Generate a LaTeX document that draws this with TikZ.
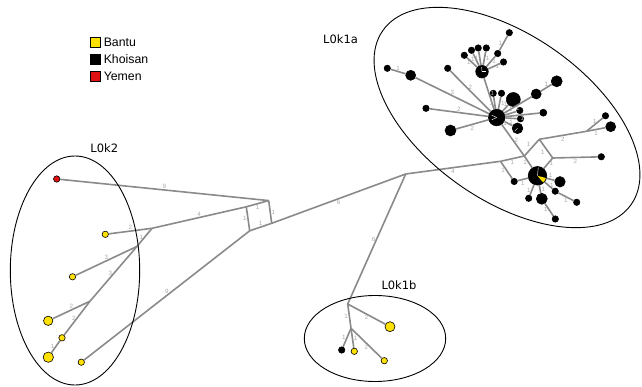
\documentclass[tikz,border=0pt]{standalone}
\usepackage{fontspec}
\setmainfont{Liberation Sans}
\newfontfamily\grpfont{DejaVu Sans}
\usepackage{tikz}
\usetikzlibrary{positioning}
\definecolor{bantu}{HTML}{FFE100}
\definecolor{yemen}{HTML}{DD1111}
\definecolor{edgegray}{HTML}{8A8A8A}
\definecolor{lblgray}{HTML}{A8A8A8}

\begin{document}
\begin{tikzpicture}[x=1pt, y=-1pt,
			edge/.style={draw=edgegray, line width=1.6pt},
			elbl/.style={text=lblgray, font=\fontsize{6.2}{6.2}\selectfont, inner sep=0.7pt, above},
			hap/.style={circle, draw=black, line width=0.6pt, inner sep=0pt, minimum size=#1pt},
			kh/.style={hap=#1, fill=black}, kh/.default=6.4,
			bt/.style={hap=#1, fill=bantu}, bt/.default=6.4,
			ye/.style={hap=#1, fill=yemen}, ye/.default=6.4,
			group/.style={draw=black, line width=0.9pt},
			grplbl/.style={font=\grpfont\fontsize{11.5}{13}\selectfont, inner sep=0pt},
			legbox/.style={draw=black, line width=0.6pt, minimum size=10.5pt, inner sep=0pt},
			legtxt/.style={font=\fontsize{12.3}{14}\selectfont, inner sep=0pt},
			pie/.style={draw=white, line width=0.4pt}]
			
			\useasboundingbox (0,0) rectangle (642,387);
			
			% legend
			\node[legbox, fill=bantu] (keyB) at (95.5,42.5) {};
			\node[legbox, fill=black, below=5.8pt of keyB] (keyK) {};
			\node[legbox, fill=yemen, below=5.8pt of keyK] (keyY) {};
			\node[legtxt, right=2.5pt of keyB] (keyBt) {Bantu};
			\node[legtxt, right=2.5pt of keyK] (keyKt) {Khoisan};
			\node[legtxt, right=2.5pt of keyY] (keyYt) {Yemen};
			
			% L0k2
			\node[ye] (r1) at (56.7,179) {};
			\node[bt] (y1) at (105.3,234.3) {};
			\node[bt] (y2) at (72.5,276.8) {};
			\node[bt=9.4] (y3) at (48.2,320.8) {};
			\node[bt] (y4) at (62,337.8) {};
			\node[bt=10.4] (y5) at (48.3,357.2) {};
			\node[bt] (y6) at (81.3,362.2) {};
			\coordinate (k1) at (246.3,206.8);
			\coordinate (k2) at (268.7,200.6);
			\coordinate (k3) at (271.7,223.3);
			\coordinate (k4) at (249.7,230.8);
			\coordinate (b1) at (152,228.3);
			\coordinate (b2) at (137,246.4);
			\coordinate (b3) at (90,301.2);
			
			\draw[edge] (k1) -- node[elbl, below] {1} (k2);
			\draw[edge] (k2) -- node[elbl, right] {1} (k3);
			\draw[edge] (k3) -- node[elbl] {1} (k4);
			\draw[edge] (k4) -- node[elbl, left] {1} (k1);
			\draw[edge] (k2) -- node[elbl] {9} (r1);
			\draw[edge] (k1) -- node[elbl] {4} (b1);
			\draw[edge] (b1) -- node[elbl] {2} (y1);
			\draw[edge] (b1) -- node[elbl, left] {1} (b2);
			\draw[edge] (b2) -- node[elbl] {3} (y2);
			\draw[edge] (b2) -- node[elbl, left] {3} (b3);
			\draw[edge] (b3) -- node[elbl] {2} (y3);
			\draw[edge] (b3) -- node[elbl, left] {2} (y4);
			\draw[edge] (y4) -- node[elbl, left] {1} (y5);
			\draw[edge] (k4) -- node[elbl] {9} (y6);
			
			% L0k1b
			\coordinate (J1) at (405.7,174);
			\coordinate (J2) at (347.7,304);
			\coordinate (J3) at (351,328.3);
			\node[bt=10] (yb1) at (390,326.7) {};
			\node[kh] (kb1) at (341.7,350) {};
			\node[bt] (yb2) at (354.3,351.3) {};
			\node[bt] (yb3) at (384.3,360.7) {};
			
			\draw[edge] (k3) -- node[elbl, below] {6} (J1);
			\draw[edge] (J1) -- node[elbl, left] {6} (J2);
			\draw[edge] (J2) -- node[elbl, below] {2} (yb1);
			\draw[edge] (J2) -- node[elbl, left] {1} (J3);
			\draw[edge] (J3) -- node[elbl, left] {1} (kb1);
			\draw[edge] (J3) -- node[elbl, right] {1} (yb2);
			\draw[edge] (J3) -- node[elbl, below] {2} (yb3);
			
			% L0k1a
			\coordinate (P) at (500.5,161.3);
			\coordinate (Q) at (524.3,156);
			\coordinate (R) at (539.3,139.3);
			\coordinate (S) at (552.7,158);
			\coordinate (T) at (586.5,131.3);
			\node[kh=18.6] (hubC) at (537.5,175.8) {};
			\node[kh] (n14) at (514.2,181.5) {};
			\node[kh] (n15) at (605.5,115.8) {};
			\node[kh=10] (n16) at (610.7,126.7) {};
			\node[kh] (n17) at (601.3,156.8) {};
			\node[kh=10.5] (n18) at (560,181.8) {};
			\node[kh] (n19) at (555.2,191.2) {};
			\node[kh] (n20) at (576.7,202.3) {};
			\node[kh=11] (n21) at (541.8,198.8) {};
			\node[kh] (n22) at (555.3,219) {};
			\node[kh] (n23) at (528.7,198.3) {};
			
			\node[kh=16.6] (hubB) at (496.7,117.5) {};
			\node[kh] (c0) at (387.3,68.3) {};
			\node[kh] (c1) at (447.7,68.3) {};
			\node[kh=10] (c2) at (410.7,75.3) {};
			\node[kh] (c3) at (426,108.3) {};
			\node[kh=11] (c4) at (450.5,130.5) {};
			\node[kh] (c5) at (493.2,93.3) {};
			\node[kh] (c6) at (501.5,93.3) {};
			\node[kh=14] (c7) at (513.3,99.5) {};
			\node[kh=10] (c8) at (536.2,94) {};
			\node[kh=11] (c9) at (556.7,81.3) {};
			\node[kh] (c10) at (519.8,110.5) {};
			\node[kh=7] (c11) at (543.3,112.7) {};
			\node[kh] (c12) at (520.5,118.8) {};
			\node[kh=10.7] (c13) at (517.5,128.3) {};
			
			\node[kh=12.6] (hubA) at (482,71.7) {};
			\node[kh] (a1) at (464.3,55.3) {};
			\node[kh] (a2) at (471.5,50.3) {};
			\node[kh] (a3) at (478.2,48) {};
			\node[kh] (a4) at (486.3,48) {};
			\node[kh] (a5) at (497.7,53.5) {};
			\node[kh] (a6) at (503.5,62) {};
			\node[kh] (a7) at (509.3,32.7) {};
			
			\draw[edge] (J1) -- node[elbl, below] {4} (P);
			\draw[edge] (P) -- node[elbl, below] {1} (Q);
			\draw[edge] (P) -- node[elbl, left] {1} (n14);
			\draw[edge] (n14) -- node[elbl, below] {1} (hubC);
			\draw[edge] (Q) -- node[elbl, above left] {1} (R);
			\draw[edge] (R) -- node[elbl, below left] {1} (S);
			\draw[edge] (Q) -- node[elbl, left] {1} (hubC);
			\draw[edge] (S) -- node[elbl, right] {1} (hubC);
			\draw[edge] (R) -- node[elbl, below] {2} (T);
			\draw[edge] (T) -- node[elbl] {1} (n15);
			\draw[edge] (T) -- node[elbl, below] {1} (n16);
			\draw[edge] (S) -- node[elbl, below] {2} (n17);
			\draw[edge] (hubC) -- node[elbl] {1} (n18);
			\draw[edge] (hubC) -- node[elbl, right] {1} (n19);
			\draw[edge] (n19) -- node[elbl, below] {1} (n20);
			\draw[edge] (hubC) -- node[elbl, right] {1} (n21);
			\draw[edge] (n21) -- node[elbl, left] {1} (n22);
			\draw[edge] (hubC) -- node[elbl, left] {1} (n23);
			
			\draw[edge] (Q) -- node[elbl, right] {2} (hubB);
			\draw[edge] (hubA) -- node[elbl, right] {1} (hubB);
			\draw[edge] (hubB) -- node[elbl] {2} (c1);
			\draw[edge] (hubB) -- node[elbl] {3} (c2);
			\draw[edge] (c2) -- node[elbl] {1} (c0);
			\draw[edge] (hubB) -- node[elbl] {2} (c3);
			\draw[edge] (hubB) -- node[elbl, below] {2} (c4);
			\draw[edge] (hubB) -- node[elbl, left] {1} (c5);
			\draw[edge] (hubB) -- node[elbl, right] {1} (c6);
			\draw[edge] (hubB) -- node[elbl] {1} (c7);
			\draw[edge] (hubB) -- node[elbl, below] {1} (c8);
			\draw[edge] (c8) -- node[elbl] {1} (c9);
			\draw[edge] (hubB) -- node[elbl] {1} (c10);
			\draw[edge] (hubB) -- node[elbl, below] {1} (c11);
			\draw[edge] (hubB) -- node[elbl, below] {1} (c12);
			\draw[edge] (hubB) -- node[elbl, left] {1} (c13);
			
			\draw[edge] (hubA) -- node[elbl, left] {1} (a1);
			\draw[edge] (hubA) -- node[elbl, left] {1} (a2);
			\draw[edge] (hubA) -- node[elbl, left] {1} (a3);
			\draw[edge] (hubA) -- node[elbl, right] {1} (a4);
			\draw[edge] (hubA) -- node[elbl, right] {1} (a5);
			\draw[edge] (hubA) -- node[elbl, right] {1} (a6);
			\draw[edge] (a5) -- node[elbl, left] {1} (a7);
			
			% pie sectors
			\fill[bantu] (hubC.center) -- ++(15:8.7) arc[start angle=15, end angle=50, radius=8.7] -- cycle;
			\draw[pie] (hubC.center) -- ++(-85:8.5);
			\draw[pie] (hubB.center) -- ++(-155:5.5);
			\draw[pie] (hubB.center) -- ++(155:5.5);
			\draw[pie] (hubA.center) -- ++(-95:4.5);
			\draw[pie] (hubA.center) -- ++(0:4);
			\draw[pie] (c13.center) -- ++(135:4);
			
			% groups
			\coordinate (cA) at (507,117.5);
			\draw[group, rotate around={-35:(cA)}] (cA) ellipse [x radius=151.6, y radius=82.6];
			\draw[group] (75,270.5) ellipse [x radius=64.7, y radius=114.5];
			\draw[group] (375,338.5) ellipse [x radius=70.7, y radius=43];
			\node[grplbl] (labA) at (340.5,39) {L0k1a};
			\node[grplbl] (labK) at (104.3,148.5) {L0k2};
			\node[grplbl] (labB) at (399,285) {L0k1b};
		\end{tikzpicture}
\end{document}
